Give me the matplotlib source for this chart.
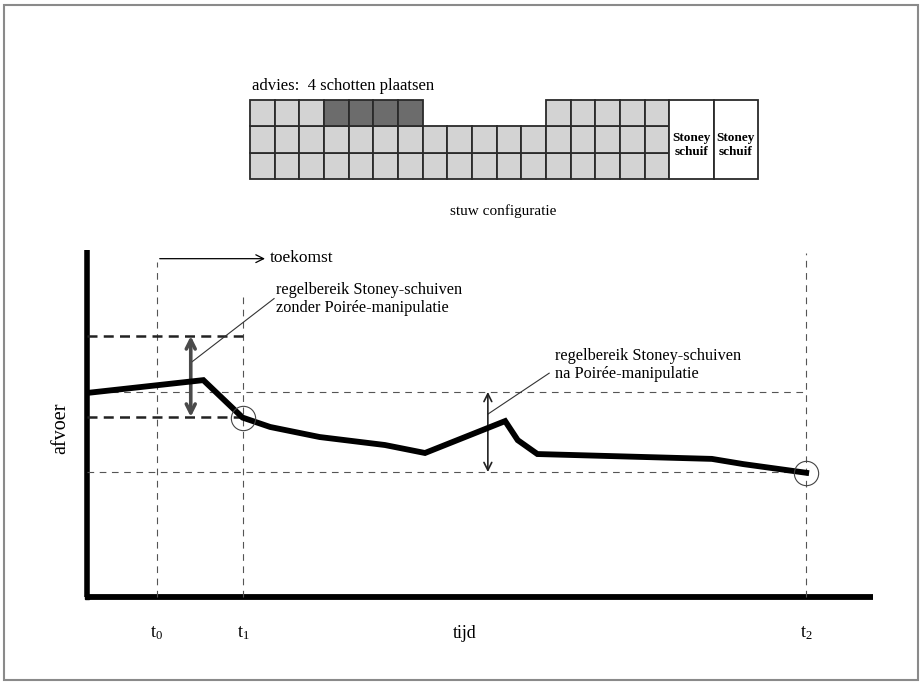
import matplotlib
matplotlib.use("Agg")
import matplotlib.pyplot as plt
from matplotlib.patches import Rectangle

plt.rcParams['font.family'] = ['Liberation Serif', 'DejaVu Serif']
plt.rcParams['mathtext.fontset'] = 'custom'
plt.rcParams['mathtext.rm'] = 'Liberation Serif'
plt.rcParams['mathtext.it'] = 'Liberation Serif'

# ---- weir configuration: number of stop logs per gate opening ----
gate_heights = [3, 3, 3, 3, 3, 3, 3, 2, 2, 2, 2, 2, 3, 3, 3, 3, 3]
advised_gates = [3, 4, 5, 6]          # top log to be placed
stoney_labels = ["Stoney\nschuif", "Stoney\nschuif"]
stoney_width = 1.8

# ---- discharge course (time, afvoer) ----
time = [0.0, 14.8, 19.8, 23.3, 29.6, 37.9, 43.0, 53.2, 54.8, 57.3, 79.5, 83.5, 91.5]
afvoer = [58.8, 62.5, 51.7, 49.0, 46.1, 43.8, 41.5, 50.7, 45.2, 41.2, 39.8, 38.3, 35.8]

t0, t1, t2 = 8.9, 19.85, 91.5
tick_labels = [r"$\mathrm{t}_0$", r"$\mathrm{t}_1$", r"$\mathrm{t}_2$"]
range_before = (51.9, 75.2)           # without Poirée manipulation
range_after = (36.0, 59.1)            # after Poirée manipulation

W, H = 921, 682
fig = plt.figure(figsize=(W / 100, H / 100), dpi=100)
fig.patch.set_facecolor('white')

# outer frame
frame = fig.add_axes([0, 0, 1, 1])
frame.set_xlim(0, W)
frame.set_ylim(H, 0)
frame.axis('off')
frame.add_patch(Rectangle((3.5, 4.5), 914, 675, fill=False, ec='#8a8a8a', lw=1.5))

# ---------------- weir grid ----------------
gx = fig.add_axes([250 / W, 1 - 179 / H, 508 / W, 79 / H])
n = len(gate_heights)
gx.set_xlim(0, n + 2 * stoney_width)
gx.set_ylim(0, 3)
gx.axis('off')
for i, h in enumerate(gate_heights):
    for r in range(h):
        dark = (r == 2 and i in advised_gates)
        gx.add_patch(Rectangle((i, r), 1, 1, fc='#6c6c6c' if dark else '#d3d3d3',
                               ec='#2a2a2a', lw=1.3, clip_on=False))
for k, lab in enumerate(stoney_labels):
    x0 = n + k * stoney_width
    gx.add_patch(Rectangle((x0, 0), stoney_width, 3, fc='white', ec='#2a2a2a',
                           lw=1.3, clip_on=False))
    gx.text(x0 + stoney_width / 2, 1.3, lab, ha='center', va='center',
            fontsize=9.5, fontweight='bold', linespacing=1.25)

fig.text(252 / W, 1 - 86 / H, "advies:  4 schotten plaatsen", ha='left', va='center',
         fontsize=12)
fig.text(503 / W, 1 - 211 / H, "stuw configuratie", ha='center', va='center',
         fontsize=11)

# ---------------- discharge chart ----------------
ax = fig.add_axes([87 / W, 1 - 597 / H, 786 / W, 347 / H])
ax.set_xlim(0, 100)
ax.set_ylim(0, 100)
ax.axis('off')

# axes drawn as thick L
ax.plot([0, 0], [100, 0], color='black', lw=4, solid_capstyle='butt', clip_on=False)
ax.plot([0, 100], [0, 0], color='black', lw=4.2, solid_capstyle='butt', clip_on=False)
ax.plot([0], [0], marker='s', ms=3, color='black', clip_on=False)

thin = dict(color='#555555', lw=0.8, dashes=(6, 5))
# vertical guide lines
ax.plot([t0, t0], [0, 96.5], **thin, clip_on=False)
ax.plot([t1, t1], [0, 86.5], **thin, clip_on=False)
ax.plot([t2, t2], [0, 99.0], **thin, clip_on=False)
# horizontal guide lines
ax.plot([0, t1], [range_before[1]] * 2, color='#222222', lw=1.8, dashes=(4, 2.5))
ax.plot([0, t1], [range_before[0]] * 2, color='#222222', lw=1.8, dashes=(4, 2.5))
ax.plot([0, t2], [range_after[1]] * 2, **thin)
ax.plot([0, t2], [range_after[0]] * 2, **thin)

# discharge curve
ax.plot(time, afvoer, color='black', lw=4.2, solid_joinstyle='miter', zorder=5)

# marked points
ax.plot([t1, t2], [afvoer[2], afvoer[-1]], marker='o', ms=17.5, mfc='none',
        mec='#444444', mew=0.8, ls='none', zorder=6)

# future arrow
ax.annotate("", xy=(23.0, 97.5), xytext=(t0, 97.5),
            arrowprops=dict(arrowstyle='->', color='black', lw=0.9, mutation_scale=14))
ax.text(23.3, 97.6, "toekomst", ha='left', va='center', fontsize=12.5)

# control range arrows
xa1 = 13.2
ax.annotate("", xy=(xa1, range_before[1]), xytext=(xa1, range_before[0]),
            arrowprops=dict(arrowstyle='<->', color='#4a4a4a', lw=2.6,
                            mutation_scale=16, shrinkA=0, shrinkB=0))
xa2 = 51.0
ax.annotate("", xy=(xa2, range_after[1]), xytext=(xa2, range_after[0]),
            arrowprops=dict(arrowstyle='<->', color='#222222', lw=1.2,
                            mutation_scale=14, shrinkA=0, shrinkB=0))

# leader lines and labels
ax.plot([xa1, 23.8], [67.5, 86.0], color='#333333', lw=0.8)
ax.text(24.0, 85.9, "regelbereik Stoney-schuiven\nzonder Poirée-manipulatie",
        ha='left', va='center', fontsize=11.7, linespacing=1.2)
ax.plot([xa2, 58.8], [52.7, 64.5], color='#333333', lw=0.8)
ax.text(59.6, 66.9, "regelbereik Stoney-schuiven\nna Poirée-manipulatie",
        ha='left', va='center', fontsize=11.7, linespacing=1.2)

# axis labels
for t, lab in zip([t0, t1, t2], tick_labels):
    ax.text(t, -10.5, lab, ha='center', va='center', fontsize=13)
ax.text(48.1, -10.5, "tijd", ha='center', va='center', fontsize=13)
ax.text(-3.3, 48.5, "afvoer", ha='center', va='center', fontsize=14.5, rotation=90)

fig.savefig("out.png", dpi=100, facecolor='white')
